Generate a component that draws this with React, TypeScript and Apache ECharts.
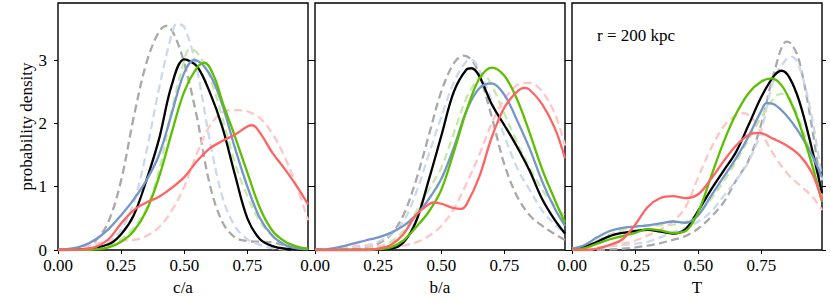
import React, { useEffect, useRef } from "react";
import * as echarts from "echarts";

// ---------- DATA (x, density) ----------
const X_TICKS = [0, 0.25, 0.5, 0.75];
const Y_TICKS = [0, 1, 2, 3];
const PANEL_NAMES = ["c/a", "b/a", "T"];

// Panel 1: c/a
const caBlack = [[0,0],[0.1,0.01],[0.2,0.09],[0.25,0.25],[0.3,0.55],[0.35,1.1],[0.4,1.75],[0.45,2.6],[0.5,3.01],[0.55,2.9],[0.6,2.5],[0.65,1.95],[0.7,1.2],[0.75,0.5],[0.8,0.17],[0.85,0.06],[0.9,0.02],[0.99,0]];
const caBlue = [[0,0],[0.05,0.02],[0.1,0.07],[0.15,0.17],[0.2,0.33],[0.25,0.55],[0.3,0.8],[0.35,1.1],[0.4,1.5],[0.45,2.15],[0.5,2.8],[0.54,3.0],[0.6,2.78],[0.65,2.3],[0.7,1.62],[0.75,1.0],[0.8,0.5],[0.85,0.22],[0.9,0.08],[0.95,0.02],[0.99,0.01]];
const caGreen = [[0,0],[0.1,0],[0.15,0.01],[0.2,0.04],[0.25,0.13],[0.3,0.3],[0.35,0.62],[0.4,1.15],[0.45,1.85],[0.5,2.5],[0.55,2.88],[0.58,2.96],[0.62,2.72],[0.65,2.35],[0.7,1.8],[0.75,1.22],[0.8,0.66],[0.85,0.3],[0.9,0.13],[0.95,0.05],[0.99,0.02]];
const caRed = [[0,0],[0.1,0.01],[0.15,0.05],[0.2,0.17],[0.25,0.42],[0.3,0.63],[0.35,0.75],[0.4,0.84],[0.45,0.98],[0.5,1.15],[0.55,1.4],[0.6,1.6],[0.65,1.72],[0.7,1.82],[0.75,1.95],[0.77,1.97],[0.8,1.85],[0.85,1.53],[0.9,1.27],[0.95,0.98],[0.99,0.72]];
const caGrayD = [[0,0],[0.05,0.01],[0.1,0.04],[0.15,0.15],[0.2,0.45],[0.25,1.1],[0.3,2.1],[0.35,2.95],[0.4,3.45],[0.43,3.54],[0.46,3.4],[0.5,2.95],[0.55,2.1],[0.6,1.05],[0.65,0.45],[0.7,0.2],[0.75,0.14],[0.8,0.13],[0.85,0.12],[0.9,0.07],[0.95,0.02],[0.99,0.01]];
const caBlueD = [[0,0],[0.1,0.01],[0.15,0.04],[0.2,0.12],[0.25,0.32],[0.3,0.75],[0.35,1.55],[0.4,2.55],[0.45,3.4],[0.47,3.57],[0.5,3.52],[0.55,2.85],[0.6,1.75],[0.65,0.85],[0.7,0.38],[0.75,0.17],[0.8,0.08],[0.85,0.03],[0.9,0.01],[0.99,0]];
const caGreenD = [[0,0],[0.1,0],[0.15,0.02],[0.2,0.06],[0.25,0.17],[0.3,0.35],[0.35,0.65],[0.4,1.25],[0.45,2.2],[0.5,3.0],[0.52,3.17],[0.55,3.12],[0.6,2.75],[0.65,2.1],[0.7,1.38],[0.75,0.85],[0.8,0.45],[0.85,0.22],[0.9,0.08],[0.95,0.03],[0.99,0.01]];
const caRedD = [[0,0],[0.05,0.01],[0.1,0.05],[0.15,0.1],[0.2,0.14],[0.25,0.15],[0.3,0.16],[0.35,0.22],[0.4,0.36],[0.45,0.62],[0.5,1.0],[0.55,1.52],[0.6,1.95],[0.65,2.17],[0.7,2.21],[0.75,2.19],[0.8,2.08],[0.85,1.83],[0.9,1.45],[0.95,0.95],[0.99,0.47]];

// Panel 2: b/a
const baBlack = [[0,0],[0.2,0],[0.3,0.02],[0.35,0.12],[0.4,0.45],[0.45,1.1],[0.5,1.8],[0.55,2.5],[0.6,2.85],[0.62,2.87],[0.65,2.75],[0.7,2.3],[0.75,1.97],[0.8,1.63],[0.85,1.25],[0.9,0.8],[0.95,0.47],[0.99,0.26]];
const baBlue = [[0,0],[0.05,0.01],[0.1,0.05],[0.15,0.1],[0.2,0.15],[0.25,0.2],[0.3,0.27],[0.35,0.38],[0.4,0.55],[0.45,0.8],[0.5,1.12],[0.55,1.62],[0.6,2.2],[0.65,2.55],[0.7,2.63],[0.75,2.45],[0.8,2.05],[0.85,1.6],[0.9,1.08],[0.95,0.65],[0.99,0.38]];
const baGreen = [[0,0],[0.2,0],[0.25,0.01],[0.3,0.04],[0.35,0.15],[0.4,0.36],[0.45,0.6],[0.5,0.95],[0.55,1.55],[0.6,2.2],[0.65,2.7],[0.7,2.88],[0.75,2.75],[0.8,2.38],[0.85,1.85],[0.9,1.27],[0.95,0.79],[0.99,0.43]];
const baRed = [[0,0],[0.2,0],[0.25,0.02],[0.3,0.08],[0.35,0.25],[0.4,0.55],[0.45,0.72],[0.47,0.75],[0.5,0.73],[0.55,0.66],[0.58,0.65],[0.6,0.72],[0.65,1.15],[0.7,1.78],[0.75,2.25],[0.8,2.5],[0.83,2.56],[0.85,2.53],[0.9,2.3],[0.95,1.92],[0.99,1.45]];
const baGrayD = [[0,0],[0.1,0.01],[0.15,0.02],[0.2,0.04],[0.25,0.1],[0.3,0.24],[0.35,0.55],[0.4,1.1],[0.45,1.8],[0.5,2.5],[0.55,2.95],[0.59,3.07],[0.62,3.0],[0.65,2.78],[0.7,2.1],[0.75,1.35],[0.8,0.85],[0.85,0.55],[0.9,0.38],[0.95,0.25],[0.99,0.16]];
const baBlueD = [[0,0],[0.1,0.02],[0.15,0.04],[0.2,0.07],[0.25,0.13],[0.3,0.25],[0.35,0.45],[0.4,0.9],[0.45,1.5],[0.5,2.1],[0.55,2.65],[0.6,2.98],[0.62,3.0],[0.65,2.85],[0.7,2.35],[0.75,1.8],[0.8,1.3],[0.85,0.95],[0.9,0.62],[0.95,0.4],[0.99,0.27]];
const baGreenD = [[0,0],[0.15,0.01],[0.2,0.02],[0.25,0.05],[0.3,0.13],[0.35,0.3],[0.4,0.6],[0.45,0.95],[0.5,1.3],[0.55,1.85],[0.6,2.4],[0.65,2.72],[0.67,2.75],[0.7,2.6],[0.75,2.15],[0.8,1.7],[0.85,1.3],[0.9,0.95],[0.95,0.7],[0.99,0.53]];
const baRedD = [[0,0],[0.05,0.02],[0.1,0.05],[0.15,0.07],[0.2,0.07],[0.25,0.06],[0.3,0.05],[0.35,0.07],[0.4,0.12],[0.45,0.22],[0.5,0.38],[0.55,0.65],[0.6,1.05],[0.65,1.5],[0.7,2.0],[0.75,2.38],[0.8,2.6],[0.85,2.64],[0.9,2.5],[0.95,2.15],[0.99,1.65]];

// Panel 3: T
const tBlack = [[0,0],[0.05,0.05],[0.1,0.13],[0.15,0.22],[0.2,0.27],[0.25,0.3],[0.3,0.32],[0.35,0.29],[0.4,0.26],[0.45,0.33],[0.5,0.62],[0.55,0.95],[0.6,1.25],[0.65,1.55],[0.7,1.98],[0.75,2.42],[0.8,2.75],[0.83,2.83],[0.86,2.73],[0.9,2.35],[0.95,1.6],[0.99,0.9]];
const tBlue = [[0,0.02],[0.05,0.08],[0.1,0.2],[0.15,0.3],[0.2,0.35],[0.25,0.37],[0.3,0.39],[0.35,0.42],[0.4,0.45],[0.45,0.43],[0.5,0.55],[0.55,0.85],[0.6,1.15],[0.65,1.45],[0.7,1.8],[0.75,2.2],[0.77,2.32],[0.8,2.3],[0.85,2.12],[0.9,1.85],[0.95,1.5],[0.99,1.15]];
const tGreen = [[0,0],[0.05,0.03],[0.1,0.1],[0.15,0.17],[0.2,0.22],[0.25,0.27],[0.3,0.33],[0.35,0.31],[0.4,0.27],[0.45,0.3],[0.5,0.6],[0.55,1.15],[0.6,1.7],[0.65,2.15],[0.7,2.48],[0.75,2.66],[0.79,2.71],[0.83,2.6],[0.87,2.3],[0.9,2.0],[0.95,1.35],[0.99,0.76]];
const tRed = [[0,0],[0.05,0],[0.1,0.02],[0.15,0.08],[0.2,0.17],[0.25,0.4],[0.3,0.68],[0.35,0.82],[0.4,0.85],[0.45,0.82],[0.5,0.88],[0.55,1.12],[0.6,1.4],[0.65,1.65],[0.7,1.82],[0.74,1.85],[0.8,1.75],[0.85,1.65],[0.9,1.5],[0.95,1.22],[0.99,0.78]];
const tGrayD = [[0,0],[0.1,0],[0.15,0.01],[0.2,0.02],[0.25,0.04],[0.3,0.07],[0.35,0.11],[0.4,0.16],[0.45,0.22],[0.5,0.34],[0.55,0.52],[0.6,0.75],[0.65,1.1],[0.7,1.42],[0.75,2.0],[0.8,2.8],[0.85,3.29],[0.87,3.25],[0.9,2.98],[0.95,1.95],[0.99,0.85]];
const tBlueD = [[0,0.01],[0.1,0.04],[0.15,0.06],[0.2,0.08],[0.25,0.1],[0.3,0.13],[0.35,0.2],[0.4,0.28],[0.45,0.35],[0.5,0.45],[0.55,0.6],[0.6,0.85],[0.65,1.1],[0.7,1.4],[0.75,1.9],[0.8,2.7],[0.85,3.02],[0.87,3.05],[0.9,2.9],[0.95,2.1],[0.99,1.1]];
const tGreenD = [[0,0.02],[0.05,0.07],[0.1,0.15],[0.15,0.24],[0.2,0.32],[0.25,0.37],[0.3,0.39],[0.35,0.39],[0.4,0.4],[0.45,0.44],[0.5,0.58],[0.55,0.8],[0.6,1.08],[0.65,1.4],[0.7,1.75],[0.75,2.1],[0.8,2.4],[0.83,2.47],[0.86,2.4],[0.9,2.05],[0.95,1.45],[0.99,0.8]];
const tRedD = [[0,0],[0.05,0.01],[0.1,0.03],[0.15,0.06],[0.2,0.1],[0.25,0.15],[0.3,0.23],[0.35,0.32],[0.4,0.45],[0.45,0.68],[0.5,1.15],[0.55,1.6],[0.6,1.95],[0.65,2.13],[0.68,2.16],[0.72,2.05],[0.75,1.85],[0.8,1.5],[0.85,1.22],[0.9,1.03],[0.95,0.85],[0.99,0.63]];

const ANNOTATION = "r = 200 kpc";

// ---------- STYLE ----------
const FONT = "'Liberation Serif', 'DejaVu Serif', serif";
const STYLES = [
  { color: "#a9a9a9", dashed: true },
  { color: "#cbd9ee", dashed: true },
  { color: "#c8e8ab", dashed: true },
  { color: "#ffc6c6", dashed: true },
  { color: "#000000", dashed: false },
  { color: "#7596c8", dashed: false },
  { color: "#5cbf00", dashed: false },
  { color: "#ff6464", dashed: false },
];

const PANELS = [
  [caGrayD, caBlueD, caGreenD, caRedD, caBlack, caBlue, caGreen, caRed],
  [baGrayD, baBlueD, baGreenD, baRedD, baBlack, baBlue, baGreen, baRed],
  [tGrayD, tBlueD, tGreenD, tRedD, tBlack, tBlue, tGreen, tRed],
];

const LEFTS = [58, 315, 572];

export default function App() {
  const ref = useRef<HTMLDivElement>(null);
  useEffect(() => {
    if (!ref.current) return;
    const chart = echarts.init(ref.current, undefined, { renderer: "svg" });
    const grids: any[] = [];
    const xAxes: any[] = [];
    const yAxes: any[] = [];
    const series: any[] = [];
    const txt = { fontFamily: FONT, fontSize: 17, color: "#000" };
    PANELS.forEach((curves, i) => {
      grids.push({
        left: LEFTS[i], top: 3, width: 250, height: 247,
        show: true, borderColor: "#000", borderWidth: 1.4, backgroundColor: "transparent",
      });
      xAxes.push({
        gridIndex: i, type: "value", min: 0, max: 0.99,
        axisLine: { show: false }, splitLine: { show: false },
        axisTick: { show: true, customValues: X_TICKS, length: 4, lineStyle: { color: "#000", width: 1 } },
        axisLabel: {
          ...txt, customValues: X_TICKS, formatter: (v: number) => v.toFixed(2),
          margin: 9, lineHeight: 13,
        },
        name: PANEL_NAMES[i], nameLocation: "middle", nameGap: 28,
        nameTextStyle: { ...txt },
      });
      yAxes.push({
        gridIndex: i, type: "value", min: 0, max: 3.9, position: "left",
        axisLine: { show: false }, splitLine: { show: false },
        axisTick: { show: true, customValues: Y_TICKS, length: 4, lineStyle: { color: "#000", width: 1 } },
        axisLabel: { ...txt, show: i === 0, customValues: Y_TICKS, margin: 11, lineHeight: 12 },
        name: i === 0 ? "probability density" : "", nameLocation: "middle", nameGap: 23,
        nameTextStyle: { ...txt },
      });
      yAxes.push({
        gridIndex: i, type: "value", min: 0, max: 3.9, position: "right",
        axisLine: { show: false }, splitLine: { show: false },
        axisTick: { show: true, customValues: Y_TICKS, length: 4, lineStyle: { color: "#000", width: 1 } },
        axisLabel: { show: false },
      });
      curves.forEach((data, k) => {
        const st = STYLES[k];
        series.push({
          type: "line", xAxisIndex: i, yAxisIndex: i * 2, data,
          smooth: 0.35, showSymbol: false, symbol: "none", silent: true,
          z: st.dashed ? 2 : 3,
          lineStyle: {
            color: st.color, width: 2.3,
            type: st.dashed ? [8, 4.5] : "solid",
          },
        });
      });
    });
    chart.setOption({
      animation: false,
      backgroundColor: "#fff",
      grid: grids,
      xAxis: xAxes,
      yAxis: yAxes,
      series,
      graphic: [
        {
          type: "text", left: 597, top: 27,
          style: { text: ANNOTATION, font: "17px " + FONT, fill: "#000" },
        },
      ],
    });
    return () => chart.dispose();
  }, []);
  return (
    <div
      ref={ref}
      style={{ position: "fixed", left: 0, top: 0, width: 830, height: 302 }}
    />
  );
}
